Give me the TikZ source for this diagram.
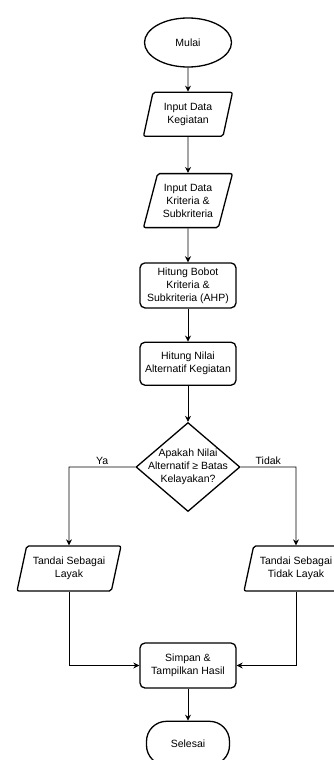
\documentclass[tikz,border=0pt]{standalone}
\usepackage{fontspec}
\setmainfont{Liberation Sans}
\usetikzlibrary{shapes.geometric, arrows.meta, positioning}
\tikzset{
    % Base Block Style
    block/.style={
        draw=black,
        line width=1.3pt,
        align=center,
        font=\fontsize{10.5}{13}\selectfont,
        inner sep=0pt
    },
    % Specific Role Styles
    terminal/.style={block, ellipse, minimum width=87pt, minimum height=49pt},
    terminalEnd/.style={block, rectangle, rounded corners=20pt, minimum width=83pt, minimum height=44pt},
    io/.style={block, trapezium, trapezium left angle=67, trapezium right angle=113,
        trapezium stretches body=true, inner xsep=-8pt,
        rounded corners=2pt, minimum width=89pt, minimum height=44pt},
    process/.style={block, rectangle, rounded corners=5pt, minimum width=96pt, minimum height=44pt},
    decision/.style={block, diamond, aspect=1.2, inner sep=-6.5pt, minimum width=104pt, minimum height=89pt},
    % Arrow & Label Styles
    arrow/.style={-{Stealth[length=6pt,width=6pt]}, line width=0.9pt, draw=black},
    branchLabel/.style={font=\fontsize{10.5}{13}\selectfont, above, inner sep=2pt}
}
\begin{document}
\begin{tikzpicture}
    \useasboundingbox (0pt,0pt) rectangle (334pt,-760pt);

    % --- MAIN COLUMN ---
    \node (start) [terminal] at (188pt,-42.5pt) {Mulai};
    \node (inKeg) [io, below=24pt of start] {Input Data\\Kegiatan};
    \node (inKrit) [io, below=36pt of inKeg, minimum height=54pt] {Input Data\\Kriteria \&\\Subkriteria};
    \node (bobot) [process, below=34pt of inKrit, minimum height=45pt] {Hitung Bobot\\Kriteria \&\\Subkriteria (AHP)};
    \node (nilai) [process, below=33pt of bobot, minimum height=43pt] {Hitung Nilai\\Alternatif Kegiatan};
    \node (cek) [decision, below=36pt of nilai] {Apakah Nilai\\Alternatif ≥ Batas\\Kelayakan?};

    % --- BRANCHES ---
    \node (layak) [io, minimum width=104pt, minimum height=45pt] at (69pt,-568.5pt) {Tandai Sebagai\\Layak};
    \node (tidak) [io, minimum width=104pt, minimum height=45pt] at (296pt,-568.5pt) {Tandai Sebagai\\Tidak Layak};

    % --- END ---
    \node (simpan) [process, minimum height=45pt] at (188pt,-665.5pt) {Simpan \&\\Tampilkan Hasil};
    \node (stop) [terminalEnd, below=32pt of simpan] {Selesai};

    % --- Arrows ---
    \draw [arrow] (start) -- (inKeg);
    \draw [arrow] (inKeg) -- (inKrit);
    \draw [arrow] (inKrit) -- (bobot);
    \draw [arrow] (bobot) -- (nilai);
    \draw [arrow] (nilai) -- (cek);
    \draw [arrow] (cek.west) -- node [branchLabel] {Ya} (cek.west -| layak) -- (layak);
    \draw [arrow] (cek.east) -- node [branchLabel] {Tidak} (cek.east -| tidak) -- (tidak);
    \draw [arrow] (layak) |- (simpan);
    \draw [arrow] (tidak) |- (simpan);
    \draw [arrow] (simpan) -- (stop);

\end{tikzpicture}
\end{document}
